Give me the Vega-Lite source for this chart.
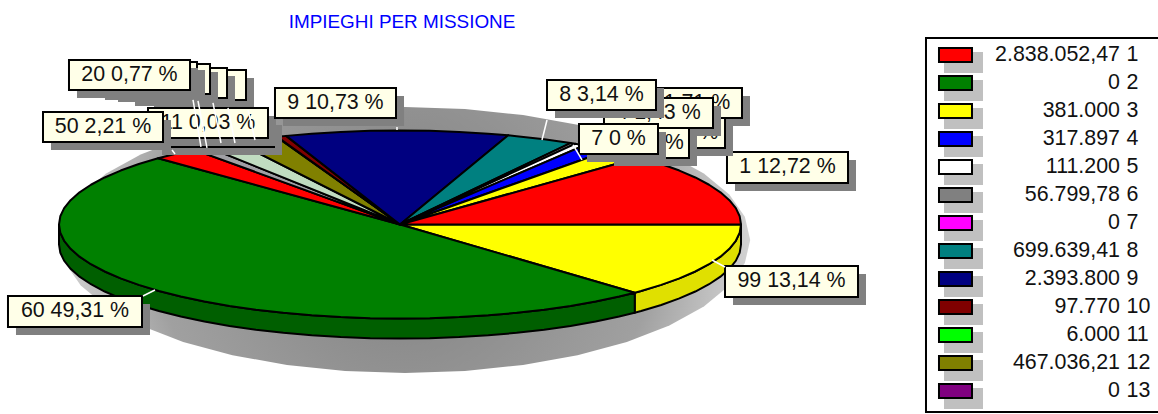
{"$schema":"https://vega.github.io/schema/vega-lite/v6.json","width":1158,"height":414,"padding":0,"autosize":{"type":"fit","contains":"padding"},"background":"white","view":{"stroke":null},
"title":{"text":"IMPIEGHI PER MISSIONE","frame":"group","anchor":"middle","dx":-177,"offset":-32,"color":"#0000ff","font":"Liberation Sans","fontSize":18.9,"fontWeight":"normal"},
"config":{"text":{"font":"Liberation Sans","fontSize":21.4,"color":"#111111"}},
"datasets":{
"ombra":[{"o":0,"x":1.027,"y":-0.165},{"o":1,"x":1.0113,"y":0.081},{"o":2,"x":0.9657,"y":0.319},{"o":3,"x":0.8911,"y":0.5425},{"o":4,"x":0.7899,"y":0.7446},{"o":5,"x":0.6652,"y":0.9189},{"o":6,"x":0.5207,"y":1.0604},{"o":7,"x":0.3608,"y":1.1647},{"o":8,"x":0.1904,"y":1.2285},{"o":9,"x":0.0147,"y":1.25},{"o":10,"x":-0.161,"y":1.2285},{"o":11,"x":-0.3314,"y":1.1647},{"o":12,"x":-0.4913,"y":1.0604},{"o":13,"x":-0.6358,"y":0.9189},{"o":14,"x":-0.7605,"y":0.7446},{"o":15,"x":-0.8617,"y":0.5425},{"o":16,"x":-0.9363,"y":0.319},{"o":17,"x":-0.9819,"y":0.081},{"o":18,"x":-0.9973,"y":-0.165},{"o":19,"x":-0.9819,"y":-0.4107},{"o":20,"x":-0.9363,"y":-0.6489},{"o":21,"x":-0.8617,"y":-0.8725},{"o":22,"x":-0.7605,"y":-1.0746},{"o":23,"x":-0.6358,"y":-1.2489},{"o":24,"x":-0.4913,"y":-1.3904},{"o":25,"x":-0.3314,"y":-1.4947},{"o":26,"x":-0.161,"y":-1.5585},{"o":27,"x":0.0147,"y":-1.58},{"o":28,"x":0.1904,"y":-1.5585},{"o":29,"x":0.3608,"y":-1.4947},{"o":30,"x":0.5207,"y":-1.3904},{"o":31,"x":0.6652,"y":-1.2489},{"o":32,"x":0.7899,"y":-1.0746},{"o":33,"x":0.8911,"y":-0.8725},{"o":34,"x":0.9657,"y":-0.6489},{"o":35,"x":1.0113,"y":-0.4107},{"o":36,"x":1.027,"y":-0.165}],
"bordoGiallo":[{"x":1,"y":0,"y2":-0.213},{"x":0.9962,"y":-0.0872,"y2":-0.3002},{"x":0.9848,"y":-0.1736,"y2":-0.3866},{"x":0.9659,"y":-0.2588,"y2":-0.4718},{"x":0.9397,"y":-0.342,"y2":-0.555},{"x":0.9063,"y":-0.4226,"y2":-0.6356},{"x":0.866,"y":-0.5,"y2":-0.713},{"x":0.8192,"y":-0.5736,"y2":-0.7866},{"x":0.766,"y":-0.6428,"y2":-0.8558},{"x":0.7071,"y":-0.7071,"y2":-0.9201},{"x":0.6884,"y":-0.7254,"y2":-0.9384}],
"bordoVerde":[{"x":0.6884,"y":-0.7254,"y2":-0.9384},{"x":0.6428,"y":-0.766,"y2":-0.979},{"x":0.5736,"y":-0.8192,"y2":-1.0322},{"x":0.5,"y":-0.866,"y2":-1.079},{"x":0.4226,"y":-0.9063,"y2":-1.1193},{"x":0.342,"y":-0.9397,"y2":-1.1527},{"x":0.2588,"y":-0.9659,"y2":-1.1789},{"x":0.1736,"y":-0.9848,"y2":-1.1978},{"x":0.0872,"y":-0.9962,"y2":-1.2092},{"x":0,"y":-1,"y2":-1.213},{"x":-0.0872,"y":-0.9962,"y2":-1.2092},{"x":-0.1736,"y":-0.9848,"y2":-1.1978},{"x":-0.2588,"y":-0.9659,"y2":-1.1789},{"x":-0.342,"y":-0.9397,"y2":-1.1527},{"x":-0.4226,"y":-0.9063,"y2":-1.1193},{"x":-0.5,"y":-0.866,"y2":-1.079},{"x":-0.5736,"y":-0.8192,"y2":-1.0322},{"x":-0.6428,"y":-0.766,"y2":-0.979},{"x":-0.7071,"y":-0.7071,"y2":-0.9201},{"x":-0.766,"y":-0.6428,"y2":-0.8558},{"x":-0.8192,"y":-0.5736,"y2":-0.7866},{"x":-0.866,"y":-0.5,"y2":-0.713},{"x":-0.9063,"y":-0.4226,"y2":-0.6356},{"x":-0.9397,"y":-0.342,"y2":-0.555},{"x":-0.9659,"y":-0.2588,"y2":-0.4718},{"x":-0.9848,"y":-0.1736,"y2":-0.3866},{"x":-0.9962,"y":-0.0872,"y2":-0.3002},{"x":-1,"y":0,"y2":-0.213}],
"fette":[
{"id":"99","s":"3","o":0,"x":0,"y":0},{"id":"99","s":"3","o":1,"x":1,"y":0},{"id":"99","s":"3","o":2,"x":0.9962,"y":-0.0872},{"id":"99","s":"3","o":3,"x":0.9848,"y":-0.1736},{"id":"99","s":"3","o":4,"x":0.9659,"y":-0.2588},{"id":"99","s":"3","o":5,"x":0.9397,"y":-0.342},{"id":"99","s":"3","o":6,"x":0.9063,"y":-0.4226},{"id":"99","s":"3","o":7,"x":0.866,"y":-0.5},{"id":"99","s":"3","o":8,"x":0.8192,"y":-0.5736},{"id":"99","s":"3","o":9,"x":0.766,"y":-0.6428},{"id":"99","s":"3","o":10,"x":0.7071,"y":-0.7071},{"id":"99","s":"3","o":11,"x":0.6884,"y":-0.7254},{"id":"99","s":"3","o":12,"x":0,"y":0},
{"id":"60","s":"2","o":0,"x":0,"y":0},{"id":"60","s":"2","o":1,"x":0.6884,"y":-0.7254},{"id":"60","s":"2","o":2,"x":0.6428,"y":-0.766},{"id":"60","s":"2","o":3,"x":0.5736,"y":-0.8192},{"id":"60","s":"2","o":4,"x":0.5,"y":-0.866},{"id":"60","s":"2","o":5,"x":0.4226,"y":-0.9063},{"id":"60","s":"2","o":6,"x":0.342,"y":-0.9397},{"id":"60","s":"2","o":7,"x":0.2588,"y":-0.9659},{"id":"60","s":"2","o":8,"x":0.1736,"y":-0.9848},{"id":"60","s":"2","o":9,"x":0.0872,"y":-0.9962},{"id":"60","s":"2","o":10,"x":0,"y":-1},{"id":"60","s":"2","o":11,"x":-0.0872,"y":-0.9962},{"id":"60","s":"2","o":12,"x":-0.1736,"y":-0.9848},{"id":"60","s":"2","o":13,"x":-0.2588,"y":-0.9659},{"id":"60","s":"2","o":14,"x":-0.342,"y":-0.9397},{"id":"60","s":"2","o":15,"x":-0.4226,"y":-0.9063},{"id":"60","s":"2","o":16,"x":-0.5,"y":-0.866},{"id":"60","s":"2","o":17,"x":-0.5736,"y":-0.8192},{"id":"60","s":"2","o":18,"x":-0.6428,"y":-0.766},{"id":"60","s":"2","o":19,"x":-0.7071,"y":-0.7071},{"id":"60","s":"2","o":20,"x":-0.766,"y":-0.6428},{"id":"60","s":"2","o":21,"x":-0.8192,"y":-0.5736},{"id":"60","s":"2","o":22,"x":-0.866,"y":-0.5},{"id":"60","s":"2","o":23,"x":-0.9063,"y":-0.4226},{"id":"60","s":"2","o":24,"x":-0.9397,"y":-0.342},{"id":"60","s":"2","o":25,"x":-0.9659,"y":-0.2588},{"id":"60","s":"2","o":26,"x":-0.9848,"y":-0.1736},{"id":"60","s":"2","o":27,"x":-0.9962,"y":-0.0872},{"id":"60","s":"2","o":28,"x":-1,"y":0},{"id":"60","s":"2","o":29,"x":-0.9962,"y":0.0872},{"id":"60","s":"2","o":30,"x":-0.9848,"y":0.1736},{"id":"60","s":"2","o":31,"x":-0.9659,"y":0.2588},{"id":"60","s":"2","o":32,"x":-0.9397,"y":0.342},{"id":"60","s":"2","o":33,"x":-0.9063,"y":0.4226},{"id":"60","s":"2","o":34,"x":-0.866,"y":0.5},{"id":"60","s":"2","o":35,"x":-0.8192,"y":0.5736},{"id":"60","s":"2","o":36,"x":-0.766,"y":0.6428},{"id":"60","s":"2","o":37,"x":-0.7095,"y":0.7047},{"id":"60","s":"2","o":38,"x":0,"y":0},
{"id":"50","s":"1","o":0,"x":0,"y":0},{"id":"50","s":"1","o":1,"x":-0.7095,"y":0.7047},{"id":"50","s":"1","o":2,"x":-0.6428,"y":0.766},{"id":"50","s":"1","o":3,"x":-0.6046,"y":0.7965},{"id":"50","s":"1","o":4,"x":0,"y":0},
{"id":"20","s":"15","o":0,"x":0,"y":0},{"id":"20","s":"15","o":1,"x":-0.6046,"y":0.7965},{"id":"20","s":"15","o":2,"x":-0.565,"y":0.8251},{"id":"20","s":"15","o":3,"x":0,"y":0},
{"id":"altro","s":"14","o":0,"x":0,"y":0},{"id":"altro","s":"14","o":1,"x":-0.565,"y":0.8251},{"id":"altro","s":"14","o":2,"x":-0.5,"y":0.866},{"id":"altro","s":"14","o":3,"x":-0.4802,"y":0.8771},{"id":"altro","s":"14","o":4,"x":0,"y":0},
{"id":"12","s":"12","o":0,"x":0,"y":0},{"id":"12","s":"12","o":1,"x":-0.4802,"y":0.8771},{"id":"12","s":"12","o":2,"x":-0.4226,"y":0.9063},{"id":"12","s":"12","o":3,"x":-0.3616,"y":0.9323},{"id":"12","s":"12","o":4,"x":0,"y":0},
{"id":"11","s":"11","o":0,"x":0,"y":0},{"id":"11","s":"11","o":1,"x":-0.3616,"y":0.9323},{"id":"11","s":"11","o":2,"x":-0.36,"y":0.933},{"id":"11","s":"11","o":3,"x":0,"y":0},
{"id":"10","s":"10","o":0,"x":0,"y":0},{"id":"10","s":"10","o":1,"x":-0.36,"y":0.933},{"id":"10","s":"10","o":2,"x":-0.3338,"y":0.9426},{"id":"10","s":"10","o":3,"x":0,"y":0},
{"id":"9","s":"9","o":0,"x":0,"y":0},{"id":"9","s":"9","o":1,"x":-0.3338,"y":0.9426},{"id":"9","s":"9","o":2,"x":-0.2588,"y":0.9659},{"id":"9","s":"9","o":3,"x":-0.1736,"y":0.9848},{"id":"9","s":"9","o":4,"x":-0.0872,"y":0.9962},{"id":"9","s":"9","o":5,"x":0,"y":1},{"id":"9","s":"9","o":6,"x":0.0872,"y":0.9962},{"id":"9","s":"9","o":7,"x":0.1736,"y":0.9848},{"id":"9","s":"9","o":8,"x":0.2588,"y":0.9659},{"id":"9","s":"9","o":9,"x":0.3173,"y":0.9483},{"id":"9","s":"9","o":10,"x":0,"y":0},
{"id":"8","s":"8","o":0,"x":0,"y":0},{"id":"8","s":"8","o":1,"x":0.3173,"y":0.9483},{"id":"8","s":"8","o":2,"x":0.342,"y":0.9397},{"id":"8","s":"8","o":3,"x":0.4226,"y":0.9063},{"id":"8","s":"8","o":4,"x":0.5,"y":0.866},{"id":"8","s":"8","o":5,"x":0,"y":0},
{"id":"6","s":"6","o":0,"x":0,"y":0},{"id":"6","s":"6","o":1,"x":0.5,"y":0.866},{"id":"6","s":"6","o":2,"x":0.5135,"y":0.8581},{"id":"6","s":"6","o":3,"x":0,"y":0},
{"id":"5","s":"5","o":0,"x":0,"y":0},{"id":"5","s":"5","o":1,"x":0.5135,"y":0.8581},{"id":"5","s":"5","o":2,"x":0.5402,"y":0.8415},{"id":"5","s":"5","o":3,"x":0,"y":0},
{"id":"4","s":"4","o":0,"x":0,"y":0},{"id":"4","s":"4","o":1,"x":0.5402,"y":0.8415},{"id":"4","s":"4","o":2,"x":0.5736,"y":0.8192},{"id":"4","s":"4","o":3,"x":0.6129,"y":0.7902},{"id":"4","s":"4","o":4,"x":0,"y":0},
{"id":"3","s":"3","o":0,"x":0,"y":0},{"id":"3","s":"3","o":1,"x":0.6129,"y":0.7902},{"id":"3","s":"3","o":2,"x":0.6428,"y":0.766},{"id":"3","s":"3","o":3,"x":0.7009,"y":0.7133},{"id":"3","s":"3","o":4,"x":0,"y":0},
{"id":"1","s":"1","o":0,"x":0,"y":0},{"id":"1","s":"1","o":1,"x":0.7009,"y":0.7133},{"id":"1","s":"1","o":2,"x":0.7071,"y":0.7071},{"id":"1","s":"1","o":3,"x":0.766,"y":0.6428},{"id":"1","s":"1","o":4,"x":0.8192,"y":0.5736},{"id":"1","s":"1","o":5,"x":0.866,"y":0.5},{"id":"1","s":"1","o":6,"x":0.9063,"y":0.4226},{"id":"1","s":"1","o":7,"x":0.9397,"y":0.342},{"id":"1","s":"1","o":8,"x":0.9659,"y":0.2588},{"id":"1","s":"1","o":9,"x":0.9848,"y":0.1736},{"id":"1","s":"1","o":10,"x":0.9962,"y":0.0872},{"id":"1","s":"1","o":11,"x":1,"y":0},{"id":"1","s":"1","o":12,"x":0,"y":0}],
"etichette":[
{"tier":1,"t":"","x":-0.7449,"x2":-0.4516,"y":1.6436,"y2":1.3245,"xc":-0.5982,"yc":1.484},
{"tier":1,"t":"3 1,71 %","x":0.6862,"x2":1.0029,"y":1.4521,"y2":1.133,"xc":0.8446,"yc":1.2926},
{"tier":1,"t":"60 49,31 %","x":-1.1496,"x2":-0.7566,"y":-0.7606,"y2":-1.0904,"xc":-0.9531,"yc":-0.9255},
{"tier":1,"t":"99 13,14 %","x":0.9531,"x2":1.3431,"y":-0.4415,"y2":-0.7713,"xc":1.1481,"yc":-0.6064},
{"tier":1,"t":"1 12,72 %","x":0.9589,"x2":1.3138,"y":0.7713,"y2":0.4415,"xc":1.1364,"yc":0.6064},
{"tier":2,"t":"","x":-0.8006,"x2":-0.5073,"y":1.6649,"y2":1.3457,"xc":-0.654,"yc":1.5053},
{"tier":2,"t":"6 0,25 %","x":0.6657,"x2":0.9531,"y":1.133,"y2":0.8138,"xc":0.8094,"yc":0.9734},
{"tier":3,"t":"","x":-0.8504,"x2":-0.5572,"y":1.7074,"y2":1.3883,"xc":-0.7038,"yc":1.5479},
{"tier":3,"t":"4 1,43 %","x":0.5982,"x2":0.9179,"y":1.3457,"y2":1.0266,"xc":0.7581,"yc":1.1862},
{"tier":4,"t":"","x":-0.8886,"x2":-0.5953,"y":1.7287,"y2":1.4096,"xc":-0.742,"yc":1.5691},
{"tier":4,"t":"5 0,5 %","x":0.6041,"x2":0.8475,"y":1.0266,"y2":0.7074,"xc":0.7258,"yc":0.867},
{"tier":5,"t":"20 0,77 %","x":-0.9707,"x2":-0.6158,"y":1.75,"y2":1.4309,"xc":-0.7933,"yc":1.5904},
{"tier":5,"t":"8 3,14 %","x":0.4311,"x2":0.7507,"y":1.5372,"y2":1.2181,"xc":0.5909,"yc":1.3777},
{"tier":6,"t":"","x":-0.7214,"x2":-0.3695,"y":1.1436,"y2":0.8245,"xc":-0.5455,"yc":0.984},
{"tier":6,"t":"7 0 %","x":0.5249,"x2":0.7566,"y":1.0691,"y2":0.75,"xc":0.6408,"yc":0.9096},
{"tier":7,"t":"11 0,03 %","x":-0.739,"x2":-0.3871,"y":1.2394,"y2":0.9202,"xc":-0.5630,"yc":1.0798},
{"tier":8,"t":"50 2,21 %","x":-1.0469,"x2":-0.695,"y":1.1968,"y2":0.8777,"xc":-0.871,"yc":1.0372},
{"tier":9,"t":"9 10,73 %","x":-0.3666,"x2":-0.0117,"y":1.4521,"y2":1.133,"xc":-0.1892,"yc":1.2926}],
"guide":[{"x":-0.607,"x2":-0.5836,"y":1.3245,"y2":0.8245},{"x":-0.5924,"x2":-0.566,"y":1.3138,"y2":0.8138},{"x":-0.5484,"x2":-0.5249,"y":1.2926,"y2":0.867},{"x":-0.5044,"x2":-0.4839,"y":1.2394,"y2":0.867},{"x":-0.4457,"x2":-0.4252,"y":1.2181,"y2":0.8989},{"x":-0.6686,"x2":-0.6598,"y":0.7926,"y2":0.75},{"x":-0.0088,"x2":-0.0088,"y":1.0372,"y2":1.0053},{"x":0.4311,"x2":0.4164,"y":1.1117,"y2":0.8989},{"x":0.5073,"x2":0.5337,"y":0.8457,"y2":0.6862},{"x":-0.7185,"x2":-0.7537,"y":-0.6968,"y2":-0.7606},{"x":0.915,"x2":0.9531,"y":-0.3777,"y2":-0.4521}],
"voci":[{"n":"1","importo":"2.838.052,47","c":1.8032},{"n":"2","importo":"0","c":1.5053},{"n":"3","importo":"381.000","c":1.2075},{"n":"4","importo":"317.897","c":0.9096},{"n":"5","importo":"111.200","c":0.6117},{"n":"6","importo":"56.799,78","c":0.3138},{"n":"7","importo":"0","c":0.016},{"n":"8","importo":"699.639,41","c":-0.2819},{"n":"9","importo":"2.393.800","c":-0.5798},{"n":"10","importo":"97.770","c":-0.8777},{"n":"11","importo":"6.000","c":-1.1755},{"n":"12","importo":"467.036,21","c":-1.4734},{"n":"13","importo":"0","c":-1.7713}],
"riquadro":[{"x":1.5425,"x2":2.26,"y":1.984,"y2":-1.995}]
},
"layer":[
{"encoding":{"x":{"field":"x","type":"quantitative","scale":{"domain":[-1.17302,2.22287],"nice":false,"zero":false},"axis":null},"y":{"field":"y","type":"quantitative","scale":{"domain":[-2.016,2.388],"nice":false,"zero":false},"axis":null}},
"layer":[
{"data":{"name":"ombra"},"mark":{"type":"line","stroke":null,"fill":{"gradient":"radial","x1":0.5,"y1":0.5,"x2":0.5,"y2":0.5,"r1":0,"r2":0.5,"stops":[{"offset":0,"color":"#808080"},{"offset":0.72,"color":"#a0a0a0"},{"offset":1,"color":"#d2d2d2"}]}},"encoding":{"order":{"field":"o"}}},
{"data":{"name":"bordoGiallo"},"mark":{"type":"area","fill":"#e0e000","stroke":"black","strokeWidth":2},"encoding":{"y2":{"field":"y2"}}},
{"data":{"name":"bordoVerde"},"mark":{"type":"area","fill":"#005f00","stroke":"black","strokeWidth":2},"encoding":{"y2":{"field":"y2"}}},
{"data":{"name":"fette"},"mark":{"type":"line","stroke":"black","strokeWidth":2,"strokeJoin":"round"},"encoding":{"detail":{"field":"id"},"order":{"field":"o"},"fill":{"field":"s","type":"nominal","legend":null,"scale":{"domain":["1","2","3","4","5","6","7","8","9","10","11","12","13","14","15"],"range":["#ff0000","#008000","#ffff00","#0000ff","#ffffff","#808080","#ff00ff","#008080","#000080","#800000","#00ff00","#808000","#800080","#c0dcc0","#a0a0a4"]}}}},
{"data":{"name":"etichette"},"transform":[{"filter":"datum.tier==1"}],"layer":[{"mark":{"type":"rect","fill":"#808080","xOffset":8,"x2Offset":8,"yOffset":8,"y2Offset":8},"encoding":{"x2":{"field":"x2"},"y2":{"field":"y2"}}},{"mark":{"type":"rect","fill":"#ffffe8","stroke":"black","strokeWidth":2},"encoding":{"x2":{"field":"x2"},"y2":{"field":"y2"}}},{"mark":{"type":"text"},"encoding":{"x":{"field":"xc","type":"quantitative"},"y":{"field":"yc","type":"quantitative"},"text":{"field":"t"}}}]},
{"data":{"name":"etichette"},"transform":[{"filter":"datum.tier==2"}],"layer":[{"mark":{"type":"rect","fill":"#808080","xOffset":8,"x2Offset":8,"yOffset":8,"y2Offset":8},"encoding":{"x2":{"field":"x2"},"y2":{"field":"y2"}}},{"mark":{"type":"rect","fill":"#ffffe8","stroke":"black","strokeWidth":2},"encoding":{"x2":{"field":"x2"},"y2":{"field":"y2"}}},{"mark":{"type":"text"},"encoding":{"x":{"field":"xc","type":"quantitative"},"y":{"field":"yc","type":"quantitative"},"text":{"field":"t"}}}]},
{"data":{"name":"etichette"},"transform":[{"filter":"datum.tier==3"}],"layer":[{"mark":{"type":"rect","fill":"#808080","xOffset":8,"x2Offset":8,"yOffset":8,"y2Offset":8},"encoding":{"x2":{"field":"x2"},"y2":{"field":"y2"}}},{"mark":{"type":"rect","fill":"#ffffe8","stroke":"black","strokeWidth":2},"encoding":{"x2":{"field":"x2"},"y2":{"field":"y2"}}},{"mark":{"type":"text"},"encoding":{"x":{"field":"xc","type":"quantitative"},"y":{"field":"yc","type":"quantitative"},"text":{"field":"t"}}}]},
{"data":{"name":"etichette"},"transform":[{"filter":"datum.tier==4"}],"layer":[{"mark":{"type":"rect","fill":"#808080","xOffset":8,"x2Offset":8,"yOffset":8,"y2Offset":8},"encoding":{"x2":{"field":"x2"},"y2":{"field":"y2"}}},{"mark":{"type":"rect","fill":"#ffffe8","stroke":"black","strokeWidth":2},"encoding":{"x2":{"field":"x2"},"y2":{"field":"y2"}}},{"mark":{"type":"text"},"encoding":{"x":{"field":"xc","type":"quantitative"},"y":{"field":"yc","type":"quantitative"},"text":{"field":"t"}}}]},
{"data":{"name":"etichette"},"transform":[{"filter":"datum.tier==5"}],"layer":[{"mark":{"type":"rect","fill":"#808080","xOffset":8,"x2Offset":8,"yOffset":8,"y2Offset":8},"encoding":{"x2":{"field":"x2"},"y2":{"field":"y2"}}},{"mark":{"type":"rect","fill":"#ffffe8","stroke":"black","strokeWidth":2},"encoding":{"x2":{"field":"x2"},"y2":{"field":"y2"}}},{"mark":{"type":"text"},"encoding":{"x":{"field":"xc","type":"quantitative"},"y":{"field":"yc","type":"quantitative"},"text":{"field":"t"}}}]},
{"data":{"name":"etichette"},"transform":[{"filter":"datum.tier==6"}],"layer":[{"mark":{"type":"rect","fill":"#808080","xOffset":8,"x2Offset":8,"yOffset":8,"y2Offset":8},"encoding":{"x2":{"field":"x2"},"y2":{"field":"y2"}}},{"mark":{"type":"rect","fill":"#ffffe8","stroke":"black","strokeWidth":2},"encoding":{"x2":{"field":"x2"},"y2":{"field":"y2"}}},{"mark":{"type":"text"},"encoding":{"x":{"field":"xc","type":"quantitative"},"y":{"field":"yc","type":"quantitative"},"text":{"field":"t"}}}]},
{"data":{"name":"etichette"},"transform":[{"filter":"datum.tier==7"}],"layer":[{"mark":{"type":"rect","fill":"#808080","xOffset":8,"x2Offset":8,"yOffset":8,"y2Offset":8},"encoding":{"x2":{"field":"x2"},"y2":{"field":"y2"}}},{"mark":{"type":"rect","fill":"#ffffe8","stroke":"black","strokeWidth":2},"encoding":{"x2":{"field":"x2"},"y2":{"field":"y2"}}},{"mark":{"type":"text"},"encoding":{"x":{"field":"xc","type":"quantitative"},"y":{"field":"yc","type":"quantitative"},"text":{"field":"t"}}}]},
{"data":{"name":"etichette"},"transform":[{"filter":"datum.tier==8"}],"layer":[{"mark":{"type":"rect","fill":"#808080","xOffset":8,"x2Offset":8,"yOffset":8,"y2Offset":8},"encoding":{"x2":{"field":"x2"},"y2":{"field":"y2"}}},{"mark":{"type":"rect","fill":"#ffffe8","stroke":"black","strokeWidth":2},"encoding":{"x2":{"field":"x2"},"y2":{"field":"y2"}}},{"mark":{"type":"text"},"encoding":{"x":{"field":"xc","type":"quantitative"},"y":{"field":"yc","type":"quantitative"},"text":{"field":"t"}}}]},
{"data":{"name":"etichette"},"transform":[{"filter":"datum.tier==9"}],"layer":[{"mark":{"type":"rect","fill":"#808080","xOffset":8,"x2Offset":8,"yOffset":8,"y2Offset":8},"encoding":{"x2":{"field":"x2"},"y2":{"field":"y2"}}},{"mark":{"type":"rect","fill":"#ffffe8","stroke":"black","strokeWidth":2},"encoding":{"x2":{"field":"x2"},"y2":{"field":"y2"}}},{"mark":{"type":"text"},"encoding":{"x":{"field":"xc","type":"quantitative"},"y":{"field":"yc","type":"quantitative"},"text":{"field":"t"}}}]},
{"data":{"name":"guide"},"mark":{"type":"rule","stroke":"white","strokeWidth":1.5},"encoding":{"x2":{"field":"x2"},"y2":{"field":"y2"}}},
{"data":{"name":"riquadro"},"mark":{"type":"rect","fill":"white","stroke":"black","strokeWidth":2,"clip":true},"encoding":{"x2":{"field":"x2"},"y2":{"field":"y2"}}}
]},
{"data":{"name":"voci"},"mark":{"type":"rect","fill":"#c0c0c0","yOffset":-3,"y2Offset":18},"encoding":{"x":{"datum":1.5953,"axis":null},"x2":{"datum":1.7097},"y":{"field":"c","type":"quantitative","axis":null},"y2":{"field":"c"}}},
{"data":{"name":"voci"},"mark":{"type":"rect","stroke":"black","strokeWidth":2,"yOffset":-7,"y2Offset":7},"encoding":{"x":{"datum":1.5806,"axis":null},"x2":{"datum":1.6774},"y":{"field":"c","type":"quantitative","axis":null},"y2":{"field":"c"},"fill":{"field":"n","type":"nominal","legend":null}}},
{"data":{"name":"voci"},"mark":{"type":"text","align":"right"},"encoding":{"x":{"datum":2.1114,"axis":null},"y":{"field":"c","type":"quantitative","axis":null},"text":{"field":"importo"}}},
{"data":{"name":"voci"},"mark":{"type":"text","align":"left"},"encoding":{"x":{"datum":2.1305,"axis":null},"y":{"field":"c","type":"quantitative","axis":null},"text":{"field":"n"}}}
]}
